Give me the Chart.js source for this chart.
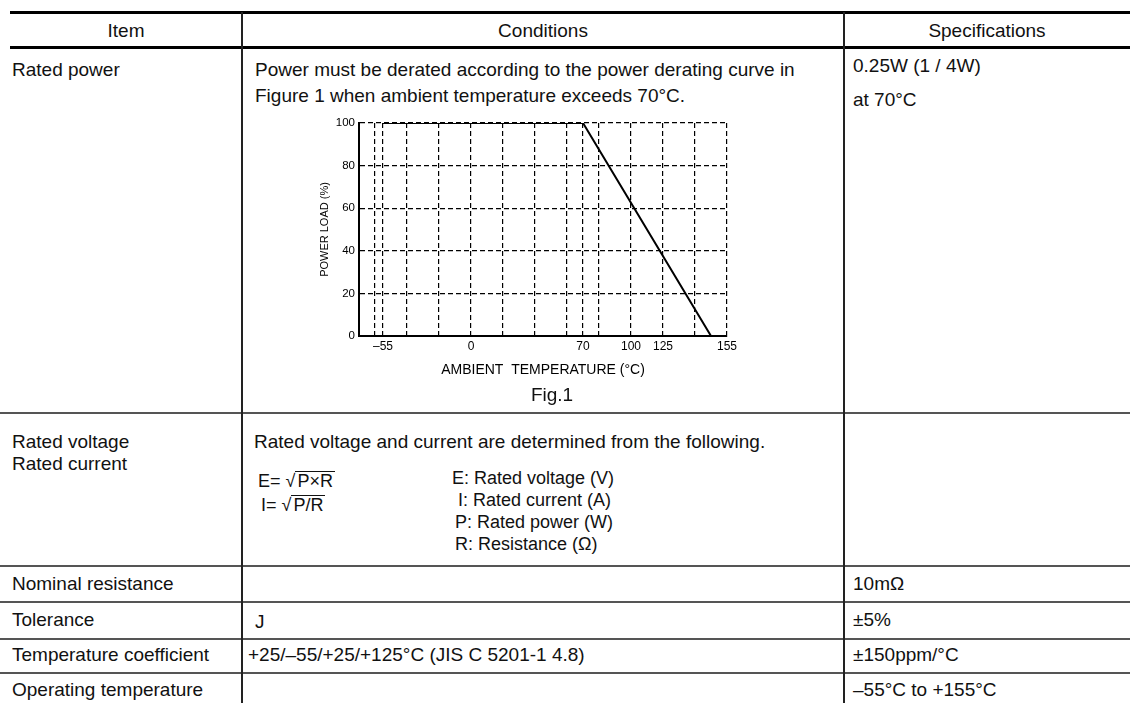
<!DOCTYPE html>
<html>
<head>
<meta charset="utf-8">
<script src="https://cdn.jsdelivr.net/npm/chart.js@4.4.1/dist/chart.umd.min.js"></script>
<style>
  body { margin: 0; background: #fff; font-family: "Liberation Sans", Arial, sans-serif; color: #111; }
  #page { position: relative; width: 1130px; height: 703px; overflow: hidden; }
  .ln { position: absolute; background: #555; }
  .thick { background: #000; }
  .t { position: absolute; font-size: 19px; line-height: 24px; height: 24px; white-space: pre; }
  .c { text-align: center; }
  .eq { font-size: 18px; }
  .rad { display: inline-block; border-top: 1.3px solid #111; line-height: 19px; padding: 0 2px; }
  #chartBox { position: absolute; left: 310px; top: 110px; width: 440px; height: 275px; }
</style>
</head>
<body>
<div id="page">
  <!-- lignes du tableau -->
  <div class="ln thick" style="left:10px;top:11px;width:1120px;height:3px"></div>
  <div class="ln thick" style="left:10px;top:46px;width:1120px;height:3px"></div>
  <div class="ln" style="left:0;top:412px;width:1130px;height:2px"></div>
  <div class="ln" style="left:0;top:565px;width:1130px;height:2px"></div>
  <div class="ln" style="left:0;top:601px;width:1130px;height:2px"></div>
  <div class="ln" style="left:0;top:638px;width:1130px;height:2px"></div>
  <div class="ln" style="left:0;top:672px;width:1130px;height:2px"></div>
  <div class="ln" style="left:241px;top:12px;width:1.5px;height:700px;background:#222"></div>
  <div class="ln" style="left:843px;top:12px;width:1.5px;height:700px;background:#222"></div>

  <!-- en-tete -->
  <div class="t c" style="left:10px;width:232px;top:19px">Item</div>
  <div class="t c" style="left:242px;width:602px;top:19px">Conditions</div>
  <div class="t c" style="left:844px;width:286px;top:19px">Specifications</div>

  <!-- Rated power -->
  <div class="t" style="left:12px;top:58px">Rated power</div>
  <div class="t" style="left:255px;top:58px">Power must be derated according to the power derating curve in</div>
  <div class="t" style="left:255px;top:84px">Figure 1 when ambient temperature exceeds 70°C.</div>
  <div class="t" style="left:853px;top:54px">0.25W (1 / 4W)</div>
  <div class="t" style="left:853px;top:88px">at 70°C</div>
  <div id="chartBox"><canvas id="derating"></canvas></div>
  <div class="t c" style="left:500px;width:104px;top:383px">Fig.1</div>

  <!-- Rated voltage / current -->
  <div class="t" style="left:12px;top:430px">Rated voltage</div>
  <div class="t" style="left:12px;top:452px">Rated current</div>
  <div class="t" style="left:254px;top:430px">Rated voltage and current are determined from the following.</div>
  <div class="t eq" style="left:258px;top:469px">E= √<span class="rad">P×R</span></div>
  <div class="t eq" style="left:261px;top:493px">I= √<span class="rad">P/R</span></div>
  <div class="t eq" style="left:452px;top:466px">E: Rated voltage (V)</div>
  <div class="t eq" style="left:458px;top:488px">I: Rated current (A)</div>
  <div class="t eq" style="left:455px;top:510px">P: Rated power (W)</div>
  <div class="t eq" style="left:455px;top:532px">R: Resistance (Ω)</div>

  <!-- lignes simples -->
  <div class="t" style="left:12px;top:572px">Nominal resistance</div>
  <div class="t" style="left:853px;top:572px">10mΩ</div>
  <div class="t" style="left:12px;top:608px">Tolerance</div>
  <div class="t" style="left:255px;top:610px">J</div>
  <div class="t" style="left:853px;top:608px">±5%</div>
  <div class="t" style="left:12px;top:643px">Temperature coefficient</div>
  <div class="t" style="left:248px;top:643px">+25/–55/+25/+125°C (JIS C 5201-1 4.8)</div>
  <div class="t" style="left:853px;top:643px">±150ppm/°C</div>
  <div class="t" style="left:12px;top:678px">Operating temperature</div>
  <div class="t" style="left:853px;top:678px">–55°C to +155°C</div>
</div>

<script>
// Courbe de derating (Fig.1)
const temps = [-55, 70, 150];
const loads = [100, 100, 0];

// Lignes de grille verticales et etiquettes de l'axe X
const xGrid = [-60, -55, -40, -20, 0, 20, 40, 60, 70, 80, 100, 120, 140, 160];
const xLabelAt = [-55, 0, 70, 100, 120, 160];
const xLabelText = ["\u201355", "0", "70", "100", "125", "155"];

// Axe Y
const yTicks = [0, 20, 40, 60, 80, 100];

Chart.defaults.font.family = "'Liberation Sans', Arial, sans-serif";
Chart.defaults.color = "#000";

const points = temps.map((t, i) => ({ x: t, y: loads[i] }));

new Chart(document.getElementById("derating").getContext("2d"), {
    type: "scatter",
    data: {
        datasets: [{
            label: "Power load",
            data: points,
            showLine: true,
            borderColor: "#000",
            borderWidth: 2,
            pointRadius: 0,
            tension: 0
        }]
    },
    options: {
        responsive: true,
        maintainAspectRatio: false,
        animation: false,
        layout: { padding: { top: 13, right: 23, left: 0, bottom: 0 } },
        plugins: { legend: { display: false }, tooltip: { enabled: false } },
        scales: {
            x: {
                type: "linear",
                min: -70,
                max: 160,
                afterBuildTicks: (scale) => { scale.ticks = xGrid.map(v => ({ value: v })); },
                afterFit: (scale) => { scale.height = 49; },
                ticks: {
                    autoSkip: false,
                    maxRotation: 0,
                    padding: 3,
                    font: { size: 12 },
                    callback: (v) => {
                        const i = xLabelAt.indexOf(v);
                        return i >= 0 ? xLabelText[i] : "";
                    }
                },
                grid: { color: "#000", lineWidth: 1.2, drawTicks: false },
                border: { display: true, color: "#000", width: 2, dash: [5, 3] },
                title: {
                    display: true,
                    text: "AMBIENT  TEMPERATURE (\u00b0C)",
                    font: { size: 14 },
                    padding: { top: 0, bottom: 6.6 }
                }
            },
            y: {
                min: 0,
                max: 100,
                afterBuildTicks: (scale) => { scale.ticks = yTicks.map(v => ({ value: v })); },
                afterFit: (scale) => { scale.width = 49; },
                ticks: { padding: 4, font: { size: 11.5 } },
                grid: { color: "#000", lineWidth: 1.2, drawTicks: false },
                border: { display: true, color: "#000", width: 2, dash: [5, 3] },
                title: {
                    display: true,
                    text: "POWER LOAD (%)",
                    font: { size: 11 },
                    padding: { top: 8.4, bottom: 0 }
                }
            }
        }
    }
});
</script>
</body>
</html>
